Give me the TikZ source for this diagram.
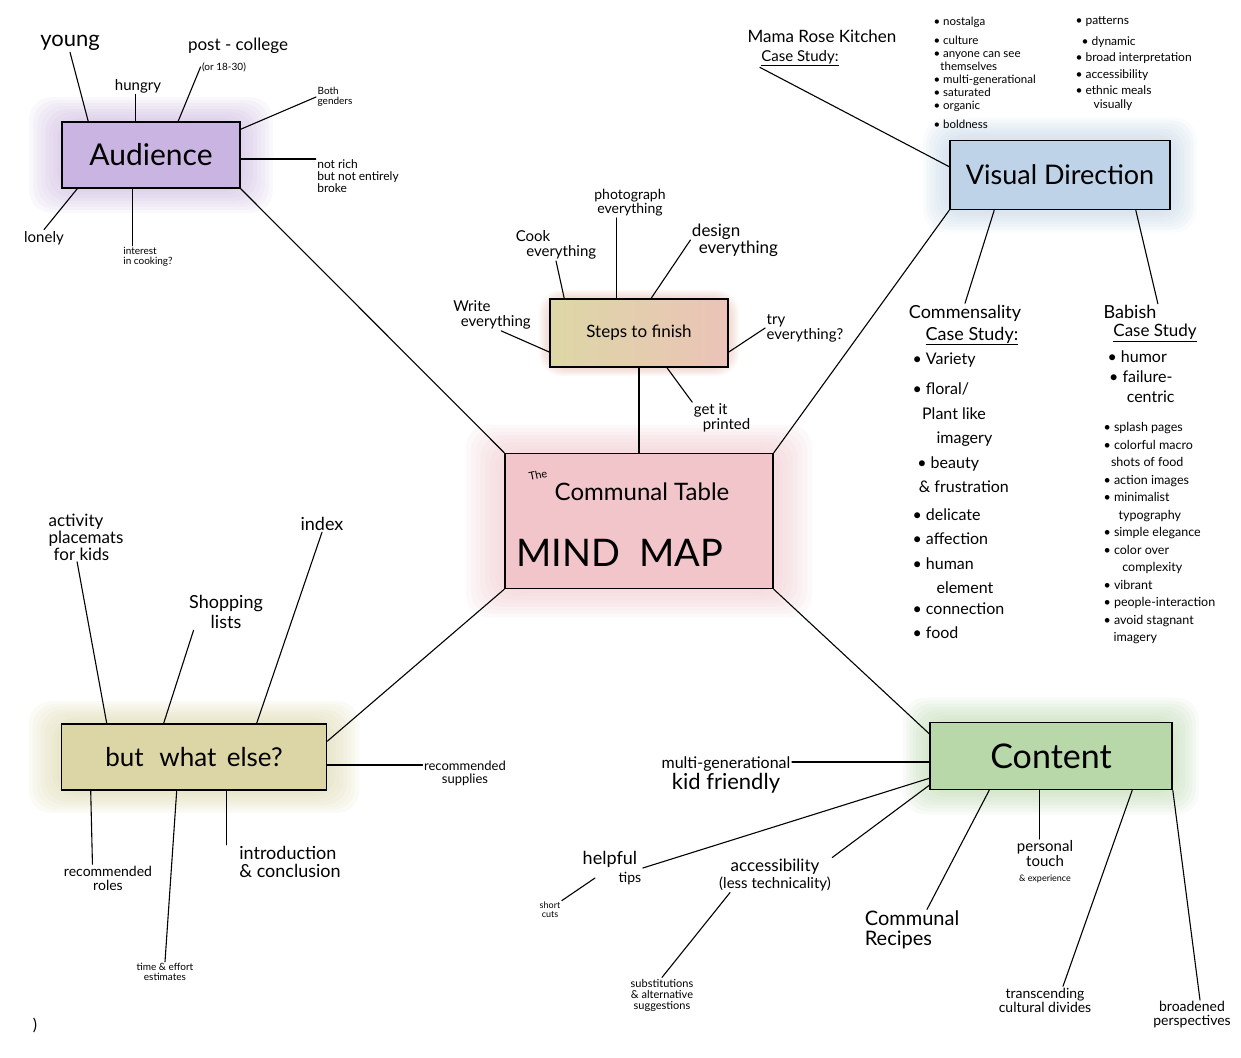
\documentclass[tikz,border=0pt]{standalone}
\usepackage{fontspec}
\setmainfont{Lato}
\usetikzlibrary{backgrounds}

\definecolor{audC}{HTML}{C9B4E2}
\definecolor{visC}{HTML}{BED3E8}
\definecolor{mindC}{HTML}{F1C5CA}
\definecolor{elseC}{HTML}{DCD6A6}
\definecolor{contC}{HTML}{B9D8AA}
\definecolor{stepL}{HTML}{DDD7A6}
\definecolor{stepR}{HTML}{EBC3B7}

% soft coloured halo round a box: node, colour, dx, dy
\newcommand{\glow}[4]{%
  \foreach \k in {1,...,8}{
    \fill[#2,opacity=0.09,rounded corners=22pt]
      ([shift={(-#3*\k/8,-#4*\k/8)}]#1.north west) rectangle ([shift={(#3*\k/8,#4*\k/8)}]#1.south east);
  }}

\begin{document}
\begin{tikzpicture}[x=1pt,y=-1pt,line width=1.1pt,line cap=round,
  box/.style={draw=black,line width=1.6pt},
  lbl/.style={font=\fontsize{#1}{#1}\selectfont,align=center,inner sep=1pt},
  lst/.style 2 args={font=\fontsize{#1}{#2}\selectfont,align=left,anchor=north west,inner sep=0pt}]
\useasboundingbox (0,0) rectangle (1241,1057);

% centre
\node[box,fill=mindC,minimum width=268,minimum height=135] (mind) at (639,521) {};
\node[lbl=11,rotate=12] (mindthe) at (538,475) {The};
\node[lbl=24] (mindtitle) at (642,492) {Communal Table};
\node[lbl=38] (mindmap) at (620,553) {MIND\hspace{0.5em}MAP};

% audience
\node[box,fill=audC,minimum width=178,minimum height=66,lbl=30] (aud) at (151,155) {Audience};
\node[lbl=22] (young) at (70,43) {young};
\node[lbl=15] (hungry) at (138,86) {hungry};
\node[lbl=17] (post) at (238,46) {post - college};
\node[lbl=10] (postage) at (224,67) {(or 18-30)};
\node[lbl=10,align=left] (both) at (335,97) {Both\\genders};
\node[lbl=12,align=left] (notrich) at (358,176) {not rich\\but not entirely\\broke};
\node[lbl=15] (lonely) at (44,238) {lonely};
\node[lbl=10,align=left] (interest) at (148,257) {interest\\in cooking?};
\coordinate (aud-h) at ([xshift=74]aud.north west);
\coordinate (aud-i) at ([xshift=71]aud.south west);
\coordinate (aud-r) at ([yshift=-4]aud.east);
\draw ([xshift=27]aud.north west) -- (young.south);
\draw (aud-h) -- (aud-h |- hungry.south);
\draw ([xshift=117]aud.north west) -- (postage.west);
\draw ([yshift=-8]aud.north east) -- (both.west);
\draw (aud-r) -- (aud-r -| notrich.west);
\draw ([xshift=16]aud.south west) -- (lonely.north);
\draw (aud-i) -- (aud-i |- interest.north);
\draw (aud.south east) -- (mind.north west);

% steps to finish
\node[box,left color=stepL,right color=stepR,minimum width=178,minimum height=68,lbl=17] (steps) at (639,333) {Steps to finish};
\node[lbl=15,align=left] (cook) at (556,245) {Cook\\\hspace*{0.7em}everything};
\node[lbl=14] (photo) at (630,203) {photograph\\everything};
\node[lbl=17,align=left] (design) at (735,240) {design\\\hspace*{0.4em}everything};
\node[lbl=15,align=left] (write) at (492,315) {Write\\\hspace*{0.5em}everything};
\node[lbl=15,align=left] (try) at (805,328) {try\\everything?};
\node[lbl=15,align=left] (printed) at (722,418) {get it\\\hspace*{0.6em}printed};
\coordinate (st-p) at ([xshift=67]steps.north west);
\draw ([xshift=15]steps.north west) -- (cook.south);
\draw (st-p) -- (st-p |- photo.south);
\draw ([xshift=102]steps.north west) -- (design.west);
\draw ([yshift=-19]steps.west) -- (write.-60);
\draw ([yshift=-19]steps.east) -- (try.west);
\draw ([xshift=28]steps.south) -- (printed.north west);
\draw (steps.south) -- (mind.north);

% visual direction
\node[box,fill=visC,minimum width=220,minimum height=69,lbl=27] (vis) at (1060,175) {Visual Direction};
\node[lbl=17] (mama) at (822,36) {Mama Rose Kitchen};
\node[lbl=15] (mamacase) at (800,58) {\underline{Case Study:}};
\node[lst={11.5}{13}] (vlistA) at (933,16) {• nostalga\\[6pt]• culture\\• anyone can see\\\hspace*{0.6em}themselves\\• multi-generational\\• saturated\\• organic\\[6pt]• boldness};
\node[lst={12}{16.5}] (vlistB) at (1075,16) {• patterns\\[4pt]\hspace*{0.5em}• dynamic\\• broad interpretation\\• accessibility\\• ethnic meals\\[-3pt]\hspace*{1.5em}visually};
\node[lbl=18] (comm) at (965,313) {Commensality};
\node[lbl=18] (commcase) at (972,336) {\underline{Case Study:}};
\node[lst={16}{24.5}] (commlist) at (912,352) {• Variety\\[6pt]• floral/\\\hspace*{0.6em}Plant like\\\hspace*{1.5em}imagery\\\hspace*{0.3em}• beauty\\\hspace*{0.4em}\& frustration\\[3pt]• delicate\\• affection\\• human\\\hspace*{1.5em}element\\[-4pt]• connection\\• food};
\node[lbl=18] (babh) at (1130,312) {Babish};
\node[lbl=17] (babcase) at (1155,333) {\underline{Case Study}};
\node[lst={16}{20}] (babA) at (1107,350) {• humor\\\hspace*{0.1em}• failure-\\\hspace*{1.2em}centric};
\node[lst={12.5}{17.5}] (babB) at (1103,422) {• splash pages\\• colorful macro\\\hspace*{0.6em}shots of food\\• action images\\• minimalist\\\hspace*{1.2em}typography\\• simple elegance\\• color over\\\hspace*{1.5em}complexity\\• vibrant\\• people-interaction\\• avoid stagnant\\\hspace*{0.8em}imagery};
\draw ([yshift=-27]vis.north west) -- (mamacase.south west);
\draw ([xshift=45]vis.south west) -- (comm.north);
\draw ([xshift=-35]vis.south east) -- (babh.north east);
\draw (vis.south west) -- (mind.north east);

% but what else
\node[box,fill=elseC,minimum width=265,minimum height=66,lbl=26] (else) at (194,757) {but\hspace{0.6em}what\hspace{0.4em}else?};
\node[lbl=17,align=left] (activity) at (86,537) {activity\\placemats\\\hspace*{0.3em}for kids};
\node[lbl=18] (shop) at (226,612) {Shopping\\[2pt]lists};
\node[lbl=18] (index) at (322,524) {index};
\node[lbl=13] (supp) at (465,773) {recommended\\supplies};
\node[lbl=14] (roles) at (108,878) {recommended\\roles};
\node[lbl=10] (time) at (165,972) {time \& effort\\estimates};
\node[lbl=18,align=left] (intro) at (290,862) {introduction\\\& conclusion};
\coordinate (el-s) at ([yshift=-8]else.east);
\coordinate (el-i) at ([xshift=166]else.south west);
\draw ([xshift=46]else.north west) -- ([xshift=30]activity.south west);
\draw ([xshift=103]else.north west) -- ([xshift=6]shop.south west);
\draw ([xshift=196]else.north west) -- (index.south);
\draw (el-s) -- (el-s -| supp.west);
\draw ([xshift=30]else.south west) -- ([xshift=30]roles.north west);
\draw ([xshift=116]else.south west) -- (time.north);
\draw (el-i) -- (el-i |- intro.north);
\draw ([yshift=-18]else.north east) -- (mind.south west);

% content
\node[box,fill=contC,minimum width=242,minimum height=67,lbl=34] (cont) at (1051,756) {Content};
\node[lbl=16] (multi) at (726,775) {multi-generational\\{\fontsize{22}{22}\selectfont kid friendly}};
\node[lbl=18,align=left] (tips) at (612,868) {helpful\\\hspace*{2em}{\fontsize{14}{14}\selectfont tips}};
\node[lbl=9] (short) at (550,910) {short\\cuts};
\node[lbl=17] (access) at (775,875) {accessibility\\{\fontsize{15}{15}\selectfont (less technicality)}};
\node[lbl=11] (subst) at (662,995) {substitutions\\\& alternative\\suggestions};
\node[lbl=20,align=left] (recipes) at (912,930) {Communal\\Recipes};
\node[lbl=15] (pers) at (1045,862) {personal\\touch\\{\fontsize{9}{9}\selectfont \& experience}};
\node[lbl=14] (transc) at (1045,1000) {transcending\\cultural divides};
\node[lbl=14] (broad) at (1192,1015) {broadened\\perspectives};
\coordinate (ct-m) at ([yshift=-6]cont.west);
\coordinate (ct-p) at ([xshift=110]cont.south west);
\draw (ct-m) -- (ct-m -| multi.east);
\draw ([yshift=12]cont.south west) -- (tips.east);
\draw ([shift={(-17,10)}]tips.center) -- (short.north east);
\draw ([yshift=5]cont.south west) -- (access.north east);
\draw ([xshift=-45]access.south) -- (subst.north);
\draw ([xshift=60]cont.south west) -- ([xshift=15]recipes.north);
\draw (ct-p) -- (ct-p |- pers.north);
\draw ([xshift=203]cont.south west) -- ([xshift=18]transc.north);
\draw (cont.south east) -- ([xshift=8]broad.north);
\draw ([yshift=-12]cont.north west) -- (mind.south east);

\node[lbl=16] (stray) at (35,1025) {)};

\begin{scope}[on background layer]
\fill[white] (0,0) rectangle (1241,1057);
\glow{aud}{audC}{32}{24}
\glow{vis}{visC}{26}{22}
\glow{mind}{mindC}{38}{28}
\glow{else}{elseC}{32}{22}
\glow{cont}{contC}{26}{24}
\glow{steps}{stepR}{10}{8}
\end{scope}
\end{tikzpicture}
\end{document}
